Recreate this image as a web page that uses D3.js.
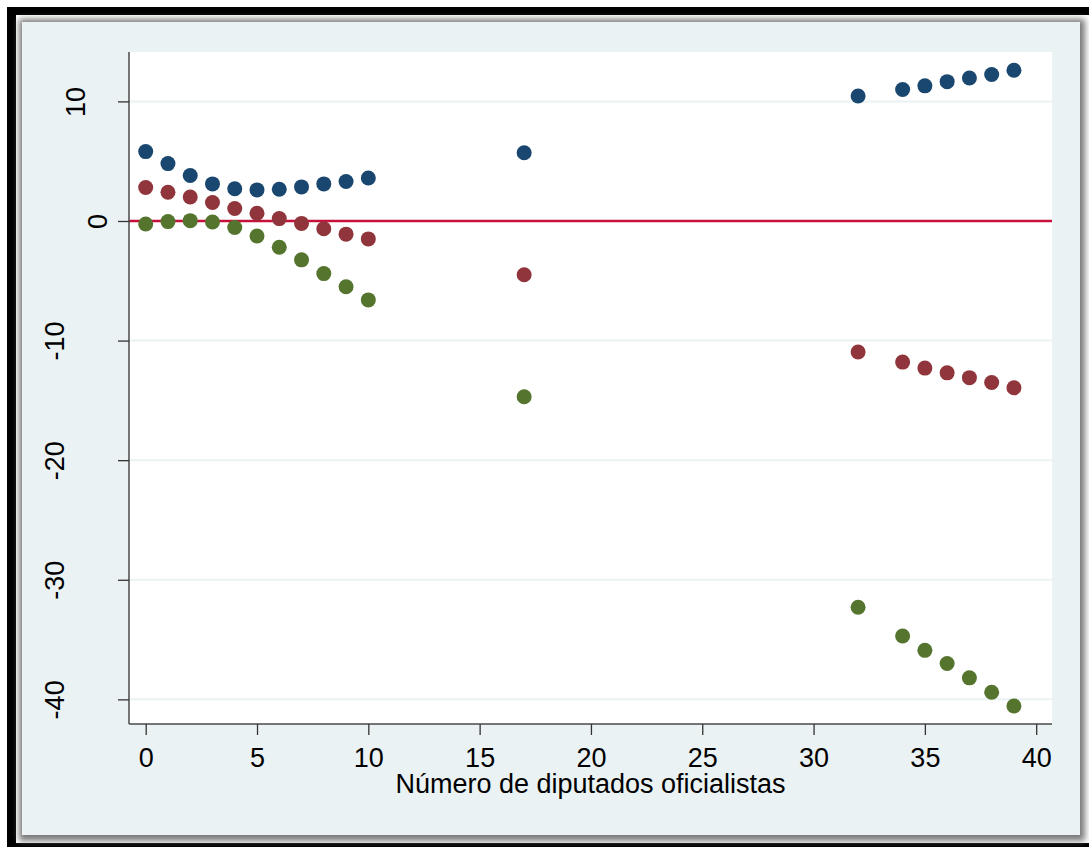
<!DOCTYPE html>
<html>
<head>
<meta charset="utf-8">
<script src="https://cdn.jsdelivr.net/npm/d3@7"></script>
<style>
  body { margin: 0; background: #fff; }
  svg text { font-family: "Liberation Sans", Arial, sans-serif; }
</style>
</head>
<body>
<div id="chart"></div>
<script>
// x values (número de diputados oficialistas)
const xValues = [0, 1, 2, 3, 4, 5, 6, 7, 8, 9, 10, 17, 32, 34, 35, 36, 37, 38, 39];

// three series
const blueValues = [5.8, 4.8, 3.8, 3.1, 2.7, 2.6, 2.65, 2.85, 3.1, 3.3, 3.6, 5.7,
                    10.45, 11.0, 11.3, 11.65, 11.95, 12.25, 12.6];
const redValues = [2.8, 2.4, 2.0, 1.55, 1.05, 0.65, 0.2, -0.2, -0.65, -1.1, -1.5, -4.5,
                   -10.95, -11.8, -12.3, -12.7, -13.1, -13.5, -13.95];
const greenValues = [-0.25, -0.05, 0.03, -0.08, -0.55, -1.25, -2.2, -3.25, -4.4, -5.5, -6.6, -14.7,
                     -32.3, -34.7, -35.9, -37.0, -38.2, -39.4, -40.55];

const xTicks = [0, 5, 10, 15, 20, 25, 30, 35, 40];
const yTicks = [10, 0, -10, -20, -30, -40];
const xTitle = "Número de diputados oficialistas";

const series = [
    { values: blueValues, color: "#1a476f" },
    { values: redValues, color: "#90353b" },
    { values: greenValues, color: "#55752f" }
];

const W = 1089, H = 847;
const plot = { left: 129, right: 1052, top: 52, bottom: 724 };
const fontSize = 27;

const svg = d3.select("#chart").append("svg")
    .attr("width", W)
    .attr("height", H);

// frame and shadow
const defs = svg.append("defs");
defs.append("filter").attr("id", "blur")
    .attr("x", "-5%").attr("y", "-5%").attr("width", "110%").attr("height", "110%")
    .append("feGaussianBlur").attr("stdDeviation", 3);

svg.append("rect").attr("x", 7).attr("y", 7).attr("width", W - 7).attr("height", 8).attr("fill", "#000");
svg.append("rect").attr("x", 7).attr("y", 7).attr("width", 9).attr("height", H - 7).attr("fill", "#000");
svg.append("rect").attr("x", 7).attr("y", 843).attr("width", W - 7).attr("height", 4).attr("fill", "#000");

svg.append("rect")
    .attr("x", 19).attr("y", 19).attr("width", 1066).attr("height", 822)
    .attr("fill", "#7a7a7a")
    .attr("filter", "url(#blur)");

svg.append("rect")
    .attr("x", 22).attr("y", 22).attr("width", 1058).attr("height", 813)
    .attr("fill", "#eaf2f3");

svg.append("rect")
    .attr("x", plot.left).attr("y", plot.top)
    .attr("width", plot.right - plot.left).attr("height", plot.bottom - plot.top)
    .attr("fill", "#fff");

const x = d3.scaleLinear()
    .domain([-0.75, 40.71])
    .range([plot.left, plot.right]);

const y = d3.scaleLinear()
    .domain([-42.06, 14.13])
    .range([plot.bottom, plot.top]);

// gridlines
svg.append("g")
    .selectAll("line")
    .data(yTicks)
    .enter().append("line")
    .attr("x1", plot.left).attr("x2", plot.right)
    .attr("y1", d => y(d)).attr("y2", d => y(d))
    .attr("stroke", "#eaf2f3")
    .attr("stroke-width", 2);

// reference line at zero
svg.append("line")
    .attr("x1", plot.left).attr("x2", plot.right)
    .attr("y1", y(0)).attr("y2", y(0))
    .attr("stroke", "#c8103c")
    .attr("stroke-width", 2.7);

// axes
const yAxis = svg.append("g")
    .attr("transform", `translate(${plot.left},0)`)
    .call(d3.axisLeft(y).tickValues(yTicks).tickSize(11).tickPadding(0).tickFormat(d => String(d)));

yAxis.select(".domain").attr("stroke", "#4a4a4a").attr("stroke-width", 1.5)
    .attr("d", `M0,${plot.top}V${plot.bottom}`);
yAxis.selectAll(".tick line").attr("stroke", "#333").attr("stroke-width", 1.3);
// the rotated labels sit further left the longer they are
yAxis.selectAll(".tick text")
    .attr("font-size", fontSize)
    .attr("fill", "#000")
    .attr("text-anchor", "middle")
    .attr("transform", d => `translate(${-10 - 21.5 * String(d).length},0) rotate(-90)`)
    .attr("x", 0).attr("dy", "0.35em");

const xAxis = svg.append("g")
    .attr("transform", `translate(0,${plot.bottom})`)
    .call(d3.axisBottom(x).tickValues(xTicks).tickSize(11).tickPadding(13));

xAxis.select(".domain").attr("stroke", "#4a4a4a").attr("stroke-width", 1.5)
    .attr("d", `M${plot.left},0H${plot.right}`);
xAxis.selectAll(".tick line").attr("stroke", "#333").attr("stroke-width", 1.3);
xAxis.selectAll(".tick text")
    .attr("font-size", fontSize)
    .attr("fill", "#000");

svg.append("text")
    .attr("x", (plot.left + plot.right) / 2)
    .attr("y", 793)
    .attr("text-anchor", "middle")
    .attr("font-size", fontSize)
    .attr("fill", "#000")
    .text(xTitle);

// points
series.forEach(s => {
    svg.append("g")
        .selectAll("circle")
        .data(s.values)
        .enter().append("circle")
        .attr("cx", (d, i) => x(xValues[i]))
        .attr("cy", d => y(d))
        .attr("r", 7.5)
        .attr("fill", s.color);
});
</script>
</body>
</html>
